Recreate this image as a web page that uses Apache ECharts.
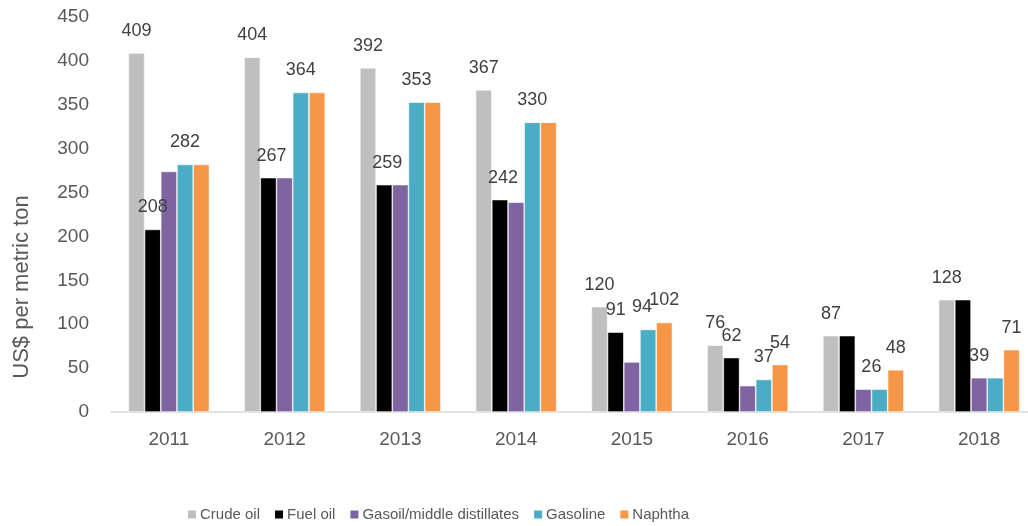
<!DOCTYPE html>
<html>
<head>
    <meta charset="utf-8" />
    <script src="https://cdn.jsdelivr.net/npm/echarts@6/dist/echarts.min.js"></script>
    <title></title>
    <style>
        html, body { margin: 0; padding: 0; background: #fff; }
    </style>
</head>
<body>
    <div id="main" style="width: 1028px;height:526px;"></div>
</body>
</html>
<script>
    var years = ['2011', '2012', '2013', '2014', '2015', '2016', '2017', '2018'];
    var seriesNames = ['Crude oil', 'Fuel oil', 'Gasoil/middle distillates', 'Gasoline', 'Naphtha'];
    var crudeOil = [409, 404, 392, 367, 120, 76, 87, 128];
    var fuelOil = [208, 267, 259, 242, 91, 62, 87, 128];
    var gasoil = [274, 267, 259, 239, 57, 30, 26, 39];
    var gasoline = [282, 364, 353, 330, 94, 37, 26, 39];
    var naphtha = [282, 364, 353, 330, 102, 54, 48, 71];
    // which bars carry a value label (index into years)
    var labelled = [
        [0, 1, 2, 3, 4, 5, 6, 7],
        [0, 1, 2, 3, 4, 5],
        [6, 7],
        [0, 1, 2, 3, 4, 5],
        [4, 5, 6, 7]
    ];
    var colors = ['#bfbfbf', '#000000', '#8064a2', '#4bacc6', '#f79646'];
    var font = "'Liberation Sans', Arial, sans-serif";

    function buildData(values, shown, offsets) {
        return values.map(function (v, i) {
            var item = { value: v };
            if (shown.indexOf(i) < 0) {
                item.label = { show: false };
            } else if (offsets && offsets[i]) {
                item.label = { offset: offsets[i] };
            }
            return item;
        });
    }

    var offsets = [null, { 1: [3, 0], 2: [3, 0], 3: [3, 0] }, { 6: [8, 0] }, { 4: [-6, 0] }, null];
    var allValues = [crudeOil, fuelOil, gasoil, gasoline, naphtha];

    var chart = echarts.init(document.getElementById('main'));
    var series = [];
    for (var s = 0; s < seriesNames.length; s++) {
        series.push({
            name: seriesNames[s],
            type: 'bar',
            barGap: '0%',
            barCategoryGap: '30%',
            itemStyle: { color: colors[s], borderColor: '#ffffff', borderWidth: 0.6 },
            label: {
                show: true,
                position: 'top',
                distance: 13,
                color: '#404040',
                fontSize: 18,
                fontFamily: font
            },
            data: buildData(allValues[s], labelled[s], offsets[s])
        });
    }

    var option = {
        animation: false,
        color: colors,
        grid: { left: 111, right: -9, top: 17, bottom: 114, outerBoundsMode: 'none' },
        graphic: [{
            type: 'text',
            x: 22,
            y: 287,
            rotation: Math.PI / 2,
            style: {
                text: 'US$ per metric ton',
                fill: '#595959',
                fontSize: 22,
                fontFamily: font,
                textAlign: 'center',
                textVerticalAlign: 'middle'
            }
        }],
        legend: {
            left: 181,
            top: 502,
            itemWidth: 10,
            itemHeight: 10,
            itemGap: 13,
            icon: 'rect',
            textStyle: { color: '#595959', fontSize: 15, fontFamily: font, padding: [0, 0, 0, -2] },
            data: seriesNames
        },
        xAxis: {
            type: 'category',
            data: years,
            axisLine: { lineStyle: { color: '#d9d9d9', width: 1.5 } },
            axisTick: { show: false },
            axisLabel: { color: '#595959', fontSize: 19, fontFamily: font, margin: 18 }
        },
        yAxis: {
            type: 'value',
            min: 0,
            max: 450,
            interval: 50,
            axisLine: { show: false },
            axisTick: { show: false },
            splitLine: { show: false },
            axisLabel: { color: '#595959', fontSize: 19, fontFamily: font, margin: 22 }
        },
        series: series
    };

    chart.setOption(option);
</script>
